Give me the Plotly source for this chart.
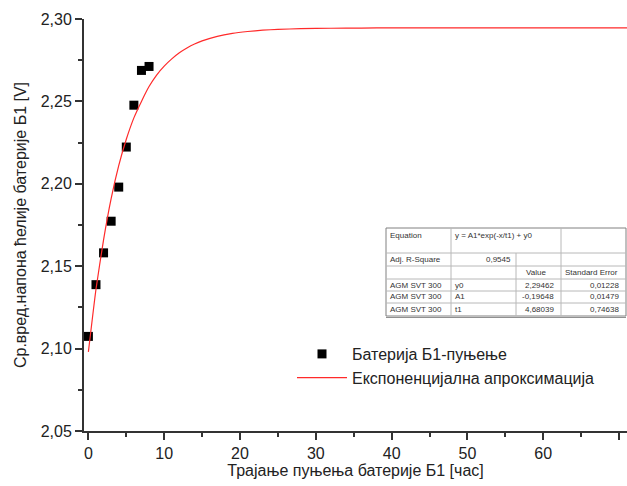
import plotly.graph_objects as go

# ---- data ----
hours = [0, 1, 2, 3, 4, 5, 6, 7, 8]
voltage = [2.1074, 2.1388, 2.1581, 2.1773, 2.1980, 2.2223, 2.2477, 2.2688, 2.2712]

fit_x = [0, 1, 2, 3, 4, 5, 6, 7, 8, 9, 10, 11, 12, 13, 14, 15, 17, 19, 21, 23, 25, 28, 32, 36, 40, 50, 60, 72]
fit_y = [2.098, 2.136, 2.166, 2.191, 2.211, 2.227, 2.240, 2.250, 2.259, 2.266,
         2.2714, 2.2758, 2.2795, 2.2824, 2.2848, 2.2867, 2.2895, 2.2913, 2.2924, 2.2932,
         2.2937, 2.2941, 2.2944, 2.2945, 2.2946, 2.2946, 2.2946, 2.2946]

series_names = ["Батерија Б1-пуњење", "Експоненцијална апроксимација"]
x_title = "Трајање пуњења батерије Б1 [час]"
y_title = "Ср.вред.напона ћелије батерије Б1 [V]"
x_ticks = [0, 10, 20, 30, 40, 50, 60, 70]
y_ticks = [2.05, 2.10, 2.15, 2.20, 2.25, 2.30]

# fit report table
equation_text = "y = A1*exp(-x/t1) + y0"
adj_r2 = "0,9545"
param_rows = ["AGM SVT 300", "AGM SVT 300", "AGM SVT 300"]
param_names = ["y0", "A1", "t1"]
param_values = ["2,29462", "-0,19648", "4,68039"]
param_errors = ["0,01228", "0,01479", "0,74638"]

# ---- layout geometry (pixels) ----
W, H = 627, 486
L, R, T, B = 84, 0, 19, 55
PW, PH = W - L - R, H - T - B


def px(xp):
    return (xp - L) / PW


def py(yp):
    return (H - B - yp) / PH


FONT = "Arial, Liberation Sans, sans-serif"

fig = go.Figure()
fig.add_trace(go.Scatter(
    x=hours, y=voltage, mode="markers", name=series_names[0],
    marker=dict(symbol="square", size=9, color="black"),
))
fig.add_trace(go.Scatter(
    x=fit_x, y=fit_y, mode="lines", name=series_names[1], line_shape="spline",
    line=dict(color="#ff2a2a", width=1.2, smoothing=0.5),
))

shapes = []
annotations = []

# table geometry
cols = [386, 451, 516, 561, 626]
rows = [228, 253, 266, 279, 291, 303, 316]
grid_col = "#b8b8b8"


def hline(x0, x1, y, color=grid_col, w=1):
    shapes.append(dict(type="line", xref="paper", yref="paper",
                       x0=px(x0), x1=px(x1), y0=py(y), y1=py(y),
                       line=dict(color=color, width=w)))


def vline(x, y0, y1, color=grid_col, w=1):
    shapes.append(dict(type="line", xref="paper", yref="paper",
                       x0=px(x), x1=px(x), y0=py(y0), y1=py(y1),
                       line=dict(color=color, width=w)))


shapes.append(dict(type="rect", xref="paper", yref="paper",
                   x0=px(cols[0]), x1=px(cols[-1]), y0=py(rows[-1]), y1=py(rows[0]),
                   fillcolor="white", line=dict(color="#808080", width=1), layer="above"))
for r in rows[1:-1]:
    hline(cols[0], cols[-1], r)
vline(cols[1], rows[0], rows[-1])
vline(cols[2], rows[1], rows[-1])
vline(cols[3], rows[0], rows[-1])
hline(cols[0], cols[-1], rows[-1] + 1.5, color="#909090", w=1)


def txt(x, y, s, anchor="left"):
    annotations.append(dict(xref="paper", yref="paper", x=px(x), y=py(y), text=s,
                            showarrow=False, xanchor=anchor, yanchor="middle",
                            font=dict(family=FONT, size=8, color="#333")))


txt(cols[0] + 2, 235, "Equation")
txt(cols[1] + 2, 235, equation_text)
txt(cols[0] + 2, 259.5, "Adj. R-Square")
txt(cols[2] - 3, 259.5, adj_r2, "right")
txt(cols[2] + 8, 272.5, "Value")
txt(cols[3] + 2, 272.5, "Standard Error")
for i in range(3):
    yc = (rows[3 + i] + rows[4 + i]) / 2
    txt(cols[0] + 2, yc, param_rows[i])
    txt(cols[1] + 2, yc, param_names[i])
    txt(cols[3] - 5, yc, param_values[i], "right")
    txt(cols[4] - 5, yc, param_errors[i], "right")

axis_common = dict(
    showline=True, linecolor="#333", linewidth=2, showgrid=False, zeroline=False,
    ticks="outside", ticklen=7, tickwidth=2, tickcolor="#333",
    tickfont=dict(family=FONT, size=16, color="#222"),
    mirror=False,
)

fig.update_layout(
    width=W, height=H,
    margin=dict(l=L, r=R, t=T, b=B, pad=0),
    plot_bgcolor="white", paper_bgcolor="white",
    separators=",.",
    font=dict(family=FONT, size=16, color="#222"),
    showlegend=True,
    legend=dict(x=px(292), y=py(337), xanchor="left", yanchor="top",
                bgcolor="rgba(0,0,0,0)", itemwidth=50,
                font=dict(family=FONT, size=16, color="#222")),
    xaxis=dict(range=[-0.58, 71.05], tickvals=x_ticks,
               minor=dict(ticks="outside", dtick=5, tick0=0, ticklen=4, tickwidth=2, tickcolor="#333"),
               title=dict(text=x_title, font=dict(family=FONT, size=16, color="#222"), standoff=3),
               **axis_common),
    yaxis=dict(range=[2.05, 2.30], tickvals=y_ticks, tickformat=".2f",
               minor=dict(ticks="outside", dtick=0.025, tick0=2.05, ticklen=4, tickwidth=2, tickcolor="#333"),
               title=dict(text=y_title, font=dict(family=FONT, size=16, color="#222"), standoff=10),
               **axis_common),
    shapes=shapes,
    annotations=annotations,
)

fig.write_html("out.html")
